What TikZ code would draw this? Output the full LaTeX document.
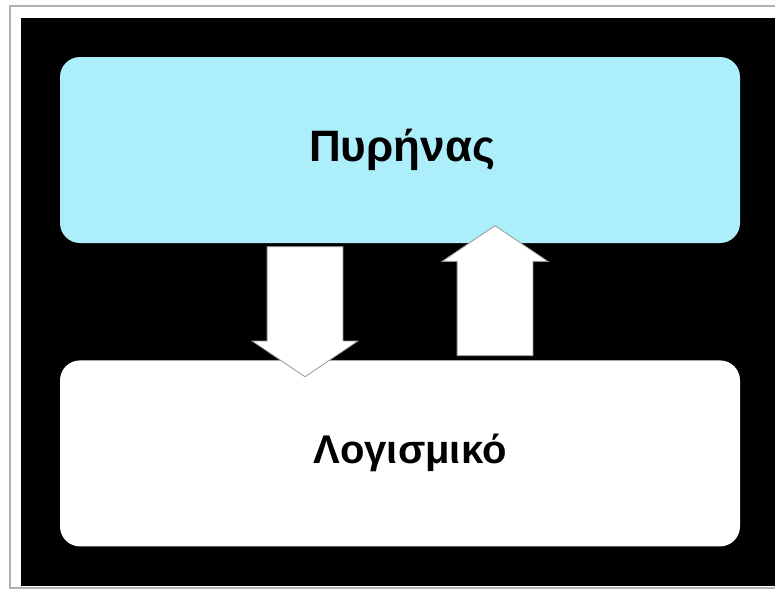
\documentclass[tikz,border=0pt]{standalone}
\usepackage{fontspec}
\setmainfont{Liberation Sans}
\usetikzlibrary{shapes.arrows, positioning}
\definecolor{corecyan}{RGB}{172,238,250}
\tikzset{%
    layer/.style = {rectangle, rounded corners=20pt,
        minimum width=680pt, minimum height=186pt, align=center,
        font=\bfseries\fontsize{40}{48}\selectfont},
    flow/.style = {single arrow, draw=gray!80, fill=white, line width=0.8pt,
        inner sep=37.5pt, minimum width=105pt, minimum height=130pt,
        single arrow head extend=15pt, single arrow tip angle=112},
}

\begin{document}
\begin{tikzpicture}[x=1pt, y=1pt]
    \useasboundingbox (0,0) rectangle (775,-592);
    \fill[white] (0,0) rectangle (775,-592);
    \draw[gray!60, line width=1.5pt] (10,-6) rectangle (790,-588);
    \fill[black] (21,-18) rectangle (775,-586);
    \node [layer, fill=corecyan, font=\bfseries\fontsize{44}{52}\selectfont]
        (core) at (400,-150) {\hspace*{4pt}Πυρήνας};
    \node [layer, fill=white, below=117pt of core] (soft)
        {\hspace*{20pt}Λογισμικό};
    \node [flow, shape border rotate=270, anchor=tip]
        (down) at ([xshift=-95pt, yshift=-17pt]soft.north) {};
    \node [flow, shape border rotate=90, anchor=tip]
        (up) at ([xshift=95pt, yshift=18pt]core.south) {};
\end{tikzpicture}
\end{document}
